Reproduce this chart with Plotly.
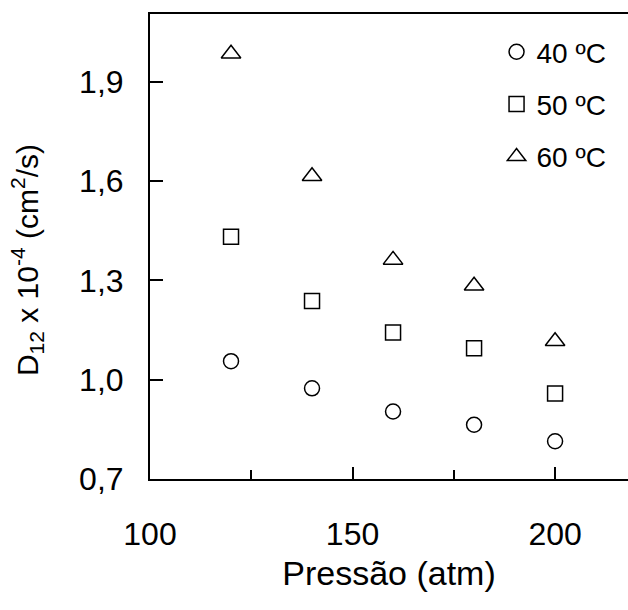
import plotly.graph_objects as go

pressure = [120, 140, 160, 180, 200]
d40 = [1.056, 0.974, 0.904, 0.864, 0.814]
d50 = [1.432, 1.238, 1.143, 1.095, 0.958]
d60 = [1.985, 1.615, 1.362, 1.284, 1.116]
series_names = ["40 ºC", "50 ºC", "60 ºC"]
y_title = "D<sub>12</sub> x 10<sup>-4</sup> (cm<sup>2</sup>/s)"
x_title = "Pressão (atm)"

font_family = "Arial, Liberation Sans, Helvetica, sans-serif"

fig = go.Figure()
symbols = ["circle-open", "square-open", "triangle-up-open"]
sizes = [15, 15, 17]
for i, (name, vals) in enumerate(zip(series_names, [d40, d50, d60])):
    fig.add_trace(go.Scatter(
        x=pressure, y=vals, mode="markers", name=name,
        legendgroup=name,
        marker=dict(symbol=symbols[i], size=sizes[i], color="black",
                    line=dict(color="black", width=1.5)),
    ))

fig.update_layout(
    width=628, height=610,
    margin=dict(l=150, r=0, t=14, b=131),
    paper_bgcolor="white", plot_bgcolor="white",
    separators=",.",
    font=dict(family=font_family, color="black"),
    showlegend=True,
    legend=dict(x=0.725, y=0.972, xanchor="left", yanchor="top",
                font=dict(size=28, family=font_family, color="black"),
                tracegroupgap=13, bgcolor="rgba(0,0,0,0)",
                itemsizing="trace"),
    annotations=[dict(
        text=y_title, textangle=-90, xref="paper", yref="paper",
        x=-0.256, y=0.47, xanchor="center", yanchor="middle", showarrow=False,
        font=dict(size=30, family=font_family, color="black"),
    )],
)
fig.update_xaxes(
    range=[100, 218], tick0=100, dtick=50,
    showline=True, linecolor="black", linewidth=2, mirror=True,
    showgrid=False, zeroline=False,
    ticks="inside", ticklen=12, tickwidth=2, tickcolor="black",
    minor=dict(ticks="inside", ticklen=9, tickwidth=2, tickcolor="black", dtick=25, showgrid=False),
    tickfont=dict(size=32, family=font_family, color="black"),
    ticklabelstandoff=26,
    title=dict(text=x_title, font=dict(size=34, family=font_family, color="black"), standoff=10),
)
fig.update_yaxes(
    range=[0.7, 2.105], tick0=0.7, dtick=0.3, tickformat=".1f",
    showline=True, linecolor="black", linewidth=2, mirror=False,
    showgrid=False, zeroline=False,
    ticks="inside", ticklen=13, tickwidth=2, tickcolor="black",
    tickfont=dict(size=32, family=font_family, color="black"),
    ticklabelstandoff=18,
)

fig.write_html("out.html")
